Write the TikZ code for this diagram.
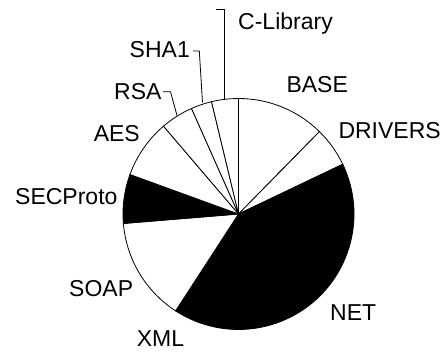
\documentclass[tikz,border=0pt]{standalone}
\usepackage{fontspec}
\setmainfont{Liberation Sans}
\begin{document}
\begin{tikzpicture}[x=1pt,y=-1pt,
  slice/.style={draw=black,line width=0.8pt,line join=round},
  wslice/.style={slice,fill=white},
  bslice/.style={slice,fill=black},
  lbl/.style={inner sep=0pt,font=\fontsize{23}{28}\selectfont},
  leader/.style={draw=black,line width=0.8pt}]
\useasboundingbox (0,0) rectangle (447,352);
\coordinate (c) at (238.5,214);
\def\R{115.5}
\newcommand{\pieslice}[3]{\path[#1] (c) -- ++(-#2:\R) arc[start angle=-#2,end angle=-#3,radius=\R] -- cycle;}
\pieslice{wslice}{90}{45.5}
\pieslice{wslice}{45.5}{25.5}
\pieslice{bslice}{25.5}{-110.5}
\pieslice{bslice}{249.5}{237}
\pieslice{wslice}{237}{184.7}
\pieslice{bslice}{184.7}{160}
\pieslice{wslice}{160}{130.5}
\pieslice{wslice}{130.5}{114}
\pieslice{wslice}{114}{103.5}
\pieslice{wslice}{103.5}{90}
% labels
\node[lbl,anchor=base west] (base) at (286.3,93) {BASE};
\node[lbl,anchor=base west] (drivers) at (338.3,139) {DRIVERS};
\node[lbl,anchor=base west] (net) at (330,321) {NET};
\node[lbl,anchor=base west] (xml) at (136.7,346.8) {XML};
\node[lbl,anchor=base west] (soap) at (69,297) {SOAP};
\node[lbl,anchor=base west] (secproto) at (15,205) {SECProto};
\node[lbl,anchor=base east] (aes) at (140,142) {AES};
\node[lbl,anchor=base east] (rsa) at (161.7,100) {RSA};
\node[lbl,anchor=base east] (sha) at (190,58) {SHA1};
\node[lbl,anchor=base west] (clib) at (238,29.5) {C-Library};
% leaders
\coordinate (rsaA) at (163,91.7);
\coordinate (rsaB) at (170.5,91.7);
\coordinate (rsaC) at (177,115.5);
\draw[leader] (rsaA) -- (rsaB) -- (rsaC);
\coordinate (shaA) at (193,51);
\coordinate (shaB) at (199.3,51);
\coordinate (shaC) at (202.5,102.5);
\draw[leader] (shaA) -- (shaB) -- (shaC);
\coordinate (clA) at (216,9.3);
\coordinate (clB) at (224,9.3);
\coordinate (clC) at (224,99.5);
\draw[leader] (clA) -- (clB) -- (clC);
\end{tikzpicture}
\end{document}
